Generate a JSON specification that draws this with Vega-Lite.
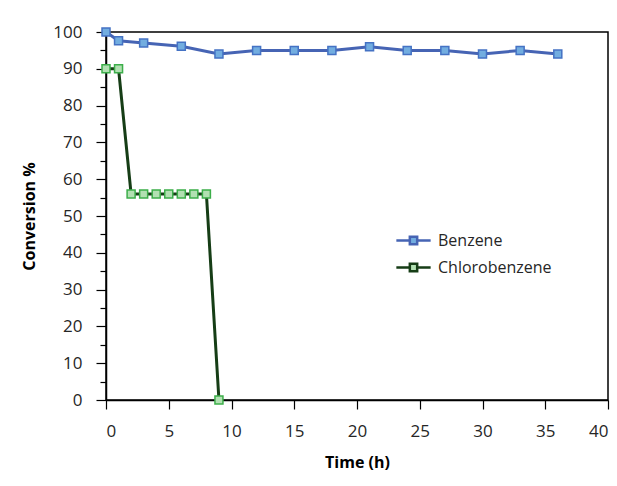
{
  "$schema": "https://vega.github.io/schema/vega-lite/v6.json",
  "width": 502,
  "height": 368,
  "autosize": {"type": "none"},
  "padding": {"left": 106, "top": 32, "right": 9, "bottom": 86},
  "config": {
    "font": "Open Sans",
    "view": {"stroke": "#000000", "strokeWidth": 1.5},
    "axis": {
      "grid": false,
      "domainColor": "#000000",
      "domainWidth": 1.5,
      "tickColor": "#000000",
      "tickWidth": 1.2,
      "labelColor": "#262626",
      "labelFontSize": 17,
      "titleColor": "#000000",
      "titleFontSize": 16,
      "titleFontWeight": "bold"
    }
  },
  "data": {
    "values": [
      {"Time": 0, "Conversion": 100, "Series": "Benzene"},
      {"Time": 1, "Conversion": 97.6, "Series": "Benzene"},
      {"Time": 3, "Conversion": 97, "Series": "Benzene"},
      {"Time": 6, "Conversion": 96.1, "Series": "Benzene"},
      {"Time": 9, "Conversion": 94, "Series": "Benzene"},
      {"Time": 12, "Conversion": 95, "Series": "Benzene"},
      {"Time": 15, "Conversion": 95, "Series": "Benzene"},
      {"Time": 18, "Conversion": 95, "Series": "Benzene"},
      {"Time": 21, "Conversion": 96, "Series": "Benzene"},
      {"Time": 24, "Conversion": 95, "Series": "Benzene"},
      {"Time": 27, "Conversion": 95, "Series": "Benzene"},
      {"Time": 30, "Conversion": 94, "Series": "Benzene"},
      {"Time": 33, "Conversion": 95, "Series": "Benzene"},
      {"Time": 36, "Conversion": 94, "Series": "Benzene"},
      {"Time": 0, "Conversion": 90, "Series": "Chlorobenzene"},
      {"Time": 1, "Conversion": 90, "Series": "Chlorobenzene"},
      {"Time": 2, "Conversion": 56, "Series": "Chlorobenzene"},
      {"Time": 3, "Conversion": 56, "Series": "Chlorobenzene"},
      {"Time": 4, "Conversion": 56, "Series": "Chlorobenzene"},
      {"Time": 5, "Conversion": 56, "Series": "Chlorobenzene"},
      {"Time": 6, "Conversion": 56, "Series": "Chlorobenzene"},
      {"Time": 7, "Conversion": 56, "Series": "Chlorobenzene"},
      {"Time": 8, "Conversion": 56, "Series": "Chlorobenzene"},
      {"Time": 9, "Conversion": 0, "Series": "Chlorobenzene"}
    ]
  },
  "encoding": {
    "x": {
      "field": "Time",
      "type": "quantitative",
      "scale": {"domain": [0, 40], "nice": false},
      "axis": {
        "title": "Time (h)",
        "values": [0, 5, 10, 15, 20, 25, 30, 35, 40],
        "tickSize": 9,
        "labelPadding": 14,
        "titlePadding": 15
      }
    },
    "y": {
      "field": "Conversion",
      "type": "quantitative",
      "scale": {"domain": [0, 100], "nice": false},
      "axis": {
        "title": "Conversion %",
        "values": [0, 5, 10, 15, 20, 25, 30, 35, 40, 45, 50, 55, 60, 65, 70, 75, 80, 85, 90, 95, 100],
        "labelExpr": "datum.value % 10 == 0 ? datum.label : ''",
        "tickSize": {"condition": {"test": "datum.value % 10 == 0", "value": 10}, "value": 6},
        "labelPadding": 14,
        "titlePadding": 15
      }
    }
  },
  "layer": [
    {
      "mark": {"type": "line", "strokeWidth": 3},
      "encoding": {
        "stroke": {
          "field": "Series",
          "type": "nominal",
          "scale": {"domain": ["Benzene", "Chlorobenzene"], "range": ["#4664b4", "#163d16"]},
          "legend": {
            "title": null,
            "orient": "none",
            "legendX": 294,
            "legendY": 195,
            "symbolType": "M-1.4,0H-0.3M0.3,0H1.4M-0.3,-0.3H0.3V0.3H-0.3Z",
            "symbolSize": 600,
            "symbolStrokeWidth": 2.5,
            "labelFontSize": 16,
            "labelColor": "#262626",
            "labelOffset": 11,
            "rowPadding": 4
          }
        }
      }
    },
    {
      "mark": {"type": "point", "shape": "square", "filled": true, "size": 64, "strokeWidth": 1.5, "opacity": 1},
      "encoding": {
        "fill": {
          "field": "Series",
          "type": "nominal",
          "scale": {"domain": ["Benzene", "Chlorobenzene"], "range": ["#72ade0", "#b2e0b2"]}
        },
        "stroke": {
          "condition": {"test": "datum.Series == 'Benzene'", "value": "#4472c4"},
          "value": "#3cae4a"
        }
      }
    }
  ]
}
